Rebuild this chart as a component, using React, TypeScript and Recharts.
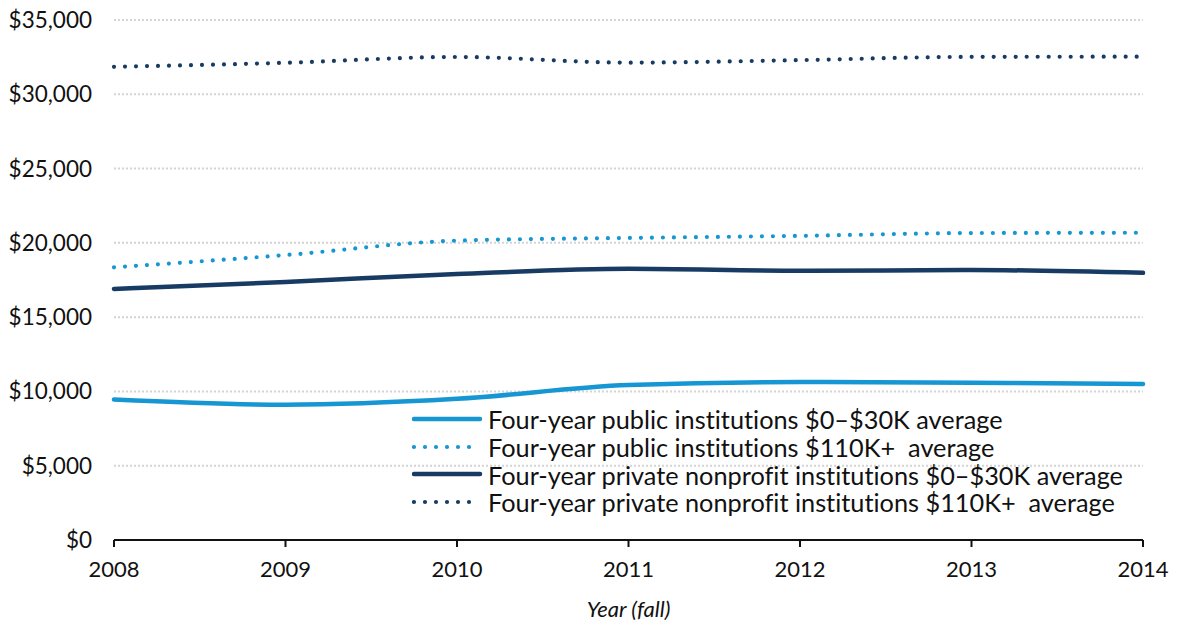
import React from "react";
import {
  LineChart,
  Line,
  XAxis,
  YAxis,
  CartesianGrid,
  Label,
} from "recharts";

// values
const years = [2008, 2009, 2010, 2011, 2012, 2013, 2014];
const publicLow = [9450, 9100, 9500, 10430, 10630, 10580, 10500];
const publicHigh = [18350, 19180, 20150, 20330, 20470, 20660, 20680];
const privateLow = [16900, 17370, 17900, 18250, 18120, 18170, 17980];
const privateHigh = [31850, 32120, 32510, 32130, 32300, 32520, 32530];
const yTicks = [0, 5000, 10000, 15000, 20000, 25000, 30000, 35000];

const LIGHT = "#1696d2";
const NAVY = "#183b63";
const FONT = "Lato, 'Open Sans', sans-serif";

const seriesList = [
  { key: "publicLow", name: "Four-year public institutions $0\u2013$30K average", color: LIGHT, dotted: false },
  { key: "publicHigh", name: "Four-year public institutions $110K+  average", color: LIGHT, dotted: true },
  { key: "privateLow", name: "Four-year private nonprofit institutions $0\u2013$30K average", color: NAVY, dotted: false },
  { key: "privateHigh", name: "Four-year private nonprofit institutions $110K+  average", color: NAVY, dotted: true },
];

const data = years.map((year, i) => ({
  year,
  publicLow: publicLow[i],
  publicHigh: publicHigh[i],
  privateLow: privateLow[i],
  privateHigh: privateHigh[i],
}));

const fmtMoney = (v: number) => "$" + v.toLocaleString("en-US");

function LegendBox() {
  return (
    <div
      style={{
        position: "absolute",
        left: 412,
        top: 405,
        fontFamily: FONT,
        fontSize: 25.3,
        color: "#111",
        whiteSpace: "pre",
        fontVariantLigatures: "none",
      }}
    >
      {seriesList.map((s) => (
        <div key={s.key} style={{ display: "flex", alignItems: "center", height: 27.8 }}>
          <svg width={72} height={10} style={{ marginRight: 4 }}>
            <line
              x1={2}
              y1={5}
              x2={68}
              y2={5}
              stroke={s.color}
              strokeWidth={s.dotted ? 4.2 : 4.5}
              strokeLinecap="round"
              strokeDasharray={s.dotted ? "0 11" : undefined}
            />
          </svg>
          <span>{s.name}</span>
        </div>
      ))}
    </div>
  );
}

export default function App() {
  return (
    <div style={{ position: "absolute", left: 0, top: 0, width: 1177, height: 622, background: "#fff" }}>
      <LineChart
        width={1177}
        height={622}
        data={data}
        margin={{ top: 20, right: 34, left: 0, bottom: 0 }}
      >
        <CartesianGrid
          vertical={false}
          stroke="#d4d4d4"
          strokeWidth={2}
          strokeDasharray="2 2"
        />
        <XAxis
          dataKey="year"
          height={82}
          tick={{ fill: "#111", fontSize: 22, fontFamily: FONT }}
          axisLine={{ stroke: "#111", strokeWidth: 2 }}
          tickLine={{ stroke: "#111", strokeWidth: 2 }}
          tickSize={7}
          tickMargin={14}
        >
          <Label
            value="Year (fall)"
            position="insideBottom"
            offset={5}
            style={{ fontFamily: FONT, fontSize: 22, fontStyle: "italic", fill: "#111" }}
          />
        </XAxis>
        <YAxis
          width={114}
          domain={[0, 35000]}
          ticks={yTicks}
          tickFormatter={fmtMoney}
          tick={{ fill: "#111", fontSize: 22.5, fontFamily: FONT }}
          axisLine={false}
          tickLine={false}
          tickSize={0}
          tickMargin={22}
        />
        {seriesList.map((s) => (
          <Line
            key={s.key}
            type="monotone"
            dataKey={s.key}
            name={s.name}
            stroke={s.color}
            strokeWidth={s.dotted ? 4.2 : 4.5}
            strokeLinecap="round"
            strokeDasharray={s.dotted ? "0 11" : undefined}
            dot={false}
            activeDot={false}
            isAnimationActive={false}
          />
        ))}
      </LineChart>
      <LegendBox />
    </div>
  );
}
